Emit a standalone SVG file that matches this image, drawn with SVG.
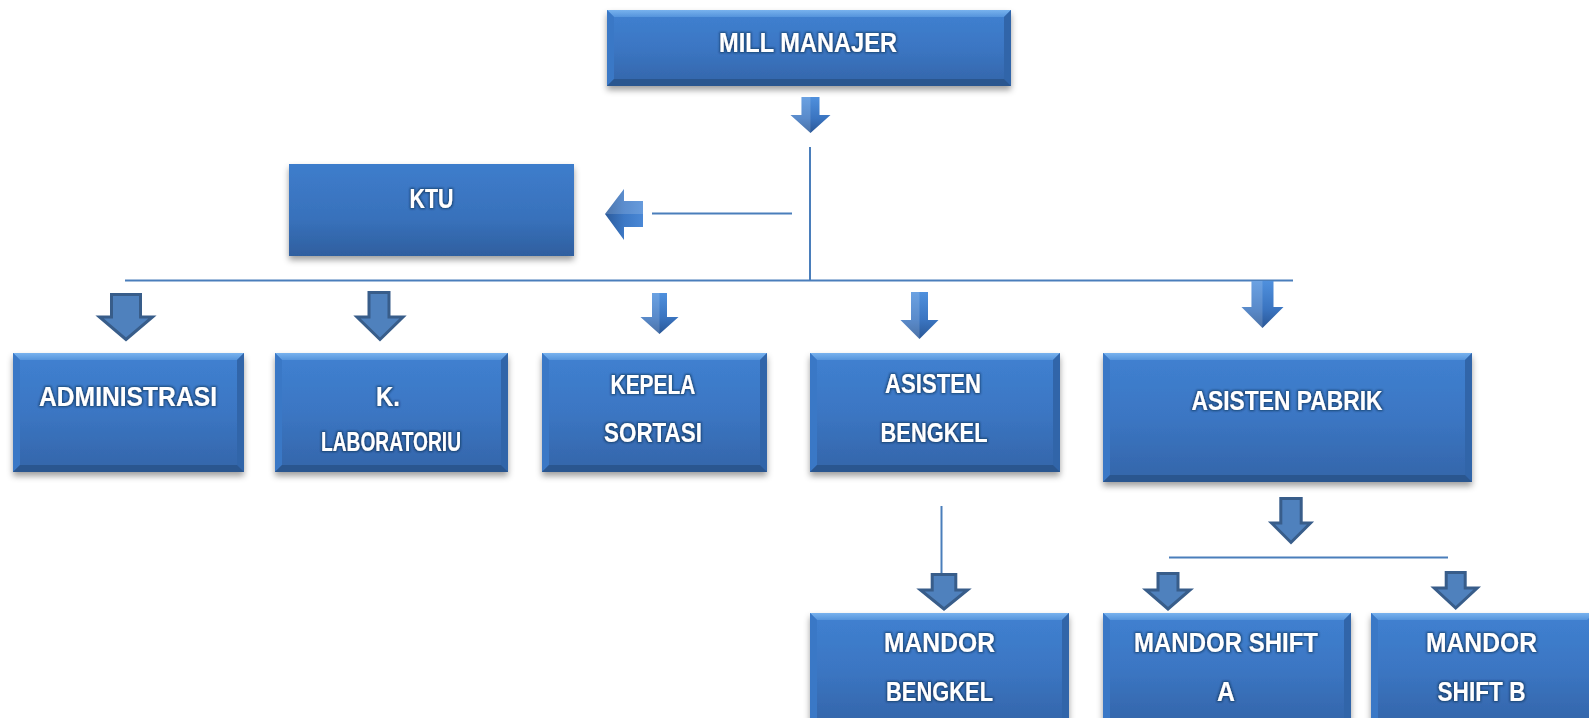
<svg xmlns="http://www.w3.org/2000/svg" width="1589" height="718" viewBox="0 0 1589 718">
<defs>
<linearGradient id="boxGrad" x1="0" y1="0" x2="0" y2="1">
<stop offset="0" stop-color="#4081d1"/><stop offset="0.5" stop-color="#3b76c3"/><stop offset="1" stop-color="#3465a9"/>
</linearGradient>
<linearGradient id="flatGrad" x1="0" y1="0" x2="0" y2="1">
<stop offset="0" stop-color="#3e7dcc"/><stop offset="0.6" stop-color="#3871bb"/><stop offset="1" stop-color="#2f5f9f"/>
</linearGradient>
<linearGradient id="topGrad" x1="0" y1="0" x2="0" y2="1">
<stop offset="0" stop-color="#78b2ee"/><stop offset="1" stop-color="#5594dc"/>
</linearGradient>
<linearGradient id="glossGrad" x1="0" y1="0" x2="0" y2="1">
<stop offset="0" stop-color="#4f90dd"/><stop offset="0.6" stop-color="#3a74c0"/><stop offset="1" stop-color="#2a5796"/>
</linearGradient>
<linearGradient id="glossGradH" x1="0" y1="0" x2="1" y2="0">
<stop offset="0" stop-color="#2c5b9b"/><stop offset="0.5" stop-color="#3c78c5"/><stop offset="1" stop-color="#4a88d6"/>
</linearGradient>
<filter id="shadow" x="-5%" y="-10%" width="110%" height="130%">
<feDropShadow dx="0" dy="4" stdDeviation="3" flood-color="#000" flood-opacity="0.38"/>
</filter>
<filter id="glow" x="-10%" y="-40%" width="120%" height="180%">
<feMorphology in="SourceAlpha" operator="dilate" radius="1" result="d"/>
<feGaussianBlur in="d" stdDeviation="1.2" result="b"/>
<feFlood flood-color="#0d2340" flood-opacity="0.6"/>
<feComposite in2="b" operator="in" result="s"/>
<feMerge><feMergeNode in="s"/><feMergeNode in="SourceGraphic"/></feMerge>
</filter>
</defs>
<style>
.base{fill:url(#boxGrad);filter:url(#shadow)}
.flat{fill:url(#flatGrad);filter:url(#shadow)}
.bt{fill:url(#topGrad)}
.bl{fill:#3a78c6}
.br{fill:#3165a9}
.bb{fill:#2a568f}
.t{font-family:"Liberation Sans",Arial,sans-serif;font-weight:bold;font-size:27px;fill:#fff;text-anchor:middle;filter:url(#glow)}
.ln{stroke:#4a7ebb;stroke-width:2;fill:none}
.ga{fill:url(#glossGrad)}
.gh{fill:#ffffff;fill-opacity:0.16}
.oa{fill:#4f81bd;stroke:#385d8a;stroke-width:3;stroke-linejoin:miter}
</style>
<rect width="1589" height="718" fill="#ffffff"/>

<g id="connectors">
<line class="ln" x1="810" y1="147" x2="810" y2="281"/>
<line class="ln" x1="652" y1="213.5" x2="792" y2="213.5"/>
<line class="ln" x1="125" y1="280.5" x2="1293" y2="280.5"/>
<line class="ln" x1="941.5" y1="506" x2="941.5" y2="577"/>
<line class="ln" x1="1169" y1="557.5" x2="1448" y2="557.5"/>
<polygon class="ga" points="801.5,97 819.5,97 819.5,115 830.5,115 810.5,133 790.5,115 801.5,115"/>
<polygon class="gh" points="801.5,97 810.5,97 810.5,133 790.5,115 801.5,115"/>
<polygon fill="url(#glossGradH)" points="643,201 643,227 624,227 624,240 605,214 624,189 624,201"/>
<polygon class="gh" points="643,201 643,214 605,214 624,189 624,201"/>
<polygon class="ga" points="652,293 667,293 667,317 678.5,317 659.5,334 640.5,317 652,317"/>
<polygon class="gh" points="652,293 659.5,293 659.5,334 640.5,317 652,317"/>
<polygon class="ga" points="911,292 928,292 928,320 938.5,320 919.5,339 900.5,320 911,320"/>
<polygon class="gh" points="911,292 919.5,292 919.5,339 900.5,320 911,320"/>
<polygon class="ga" points="1251.5,281 1273.5,281 1273.5,307 1283.5,307 1262.5,328 1241.5,307 1251.5,307"/>
<polygon class="gh" points="1251.5,281 1262.5,281 1262.5,328 1241.5,307 1251.5,307"/>
<polygon class="oa" points="111.5,294.5 140.5,294.5 140.5,317 152.5,317 126,339.5 99.5,317 111.5,317"/>
<polygon class="oa" points="369,292.5 389,292.5 389,317 403,317 380,339.5 357,317 369,317"/>
<polygon class="oa" points="1280.8,498.5 1301.2,498.5 1301.2,523 1310.5,523 1291,542.5 1271.5,523 1280.8,523"/>
<polygon class="oa" points="932.2,574.5 955.8,574.5 955.8,590 967.5,590 944,609 920.5,590 932.2,590"/>
<polygon class="oa" points="1158,573.5 1178,573.5 1178,590 1190,590 1168,609 1146,590 1158,590"/>
<polygon class="oa" points="1446.2,572.5 1465.2,572.5 1465.2,588 1477.2,588 1455.7,608 1434.2,588 1446.2,588"/>
</g>

<g id="mill-manajer">
<rect class="base" x="607" y="10" width="404" height="76"/>
<polygon class="bt" points="607,10 1011,10 1004,17 614,17"/>
<polygon class="bl" points="607,10 614,17 614,79 607,86"/>
<polygon class="br" points="1011,10 1004,17 1004,79 1011,86"/>
<polygon class="bb" points="607,86 614,79 1004,79 1011,86"/>
<text class="t" x="808" y="52" textLength="178" lengthAdjust="spacingAndGlyphs">MILL MANAJER</text>
</g>

<g id="ktu">
<rect class="flat" x="289" y="164" width="285" height="92"/>
<text class="t" x="431.5" y="208" textLength="44" lengthAdjust="spacingAndGlyphs">KTU</text>
</g>

<g id="administrasi">
<rect class="base" x="13" y="353" width="231" height="119"/>
<polygon class="bt" points="13,353 244,353 237,360 20,360"/>
<polygon class="bl" points="13,353 20,360 20,465 13,472"/>
<polygon class="br" points="244,353 237,360 237,465 244,472"/>
<polygon class="bb" points="13,472 20,465 237,465 244,472"/>
<text class="t" x="128" y="406" textLength="178" lengthAdjust="spacingAndGlyphs">ADMINISTRASI</text>
</g>

<g id="k-laboratoriu">
<rect class="base" x="275" y="353" width="233" height="119"/>
<polygon class="bt" points="275,353 508,353 501,360 282,360"/>
<polygon class="bl" points="275,353 282,360 282,465 275,472"/>
<polygon class="br" points="508,353 501,360 501,465 508,472"/>
<polygon class="bb" points="275,472 282,465 501,465 508,472"/>
<text class="t" x="388" y="406" textLength="24" lengthAdjust="spacingAndGlyphs">K.</text>
<text class="t" x="391" y="451" textLength="140" lengthAdjust="spacingAndGlyphs">LABORATORIU</text>
</g>

<g id="kepela-sortasi">
<rect class="base" x="542" y="353" width="225" height="119"/>
<polygon class="bt" points="542,353 767,353 760,360 549,360"/>
<polygon class="bl" points="542,353 549,360 549,465 542,472"/>
<polygon class="br" points="767,353 760,360 760,465 767,472"/>
<polygon class="bb" points="542,472 549,465 760,465 767,472"/>
<text class="t" x="653" y="394" textLength="85" lengthAdjust="spacingAndGlyphs">KEPELA</text>
<text class="t" x="653" y="442" textLength="98" lengthAdjust="spacingAndGlyphs">SORTASI</text>
</g>

<g id="asisten-bengkel">
<rect class="base" x="810" y="353" width="250" height="119"/>
<polygon class="bt" points="810,353 1060,353 1053,360 817,360"/>
<polygon class="bl" points="810,353 817,360 817,465 810,472"/>
<polygon class="br" points="1060,353 1053,360 1053,465 1060,472"/>
<polygon class="bb" points="810,472 817,465 1053,465 1060,472"/>
<text class="t" x="933" y="393" textLength="96" lengthAdjust="spacingAndGlyphs">ASISTEN</text>
<text class="t" x="934" y="442" textLength="107" lengthAdjust="spacingAndGlyphs">BENGKEL</text>
</g>

<g id="asisten-pabrik">
<rect class="base" x="1103" y="353" width="369" height="129"/>
<polygon class="bt" points="1103,353 1472,353 1465,360 1110,360"/>
<polygon class="bl" points="1103,353 1110,360 1110,475 1103,482"/>
<polygon class="br" points="1472,353 1465,360 1465,475 1472,482"/>
<polygon class="bb" points="1103,482 1110,475 1465,475 1472,482"/>
<text class="t" x="1287" y="410" textLength="191" lengthAdjust="spacingAndGlyphs">ASISTEN PABRIK</text>
</g>

<g id="mandor-bengkel">
<rect class="base" x="810" y="613" width="259" height="112"/>
<polygon class="bt" points="810,613 1069,613 1062,620 817,620"/>
<polygon class="bl" points="810,613 817,620 817,718 810,725"/>
<polygon class="br" points="1069,613 1062,620 1062,718 1069,725"/>
<text class="t" x="939.5" y="652" textLength="111" lengthAdjust="spacingAndGlyphs">MANDOR</text>
<text class="t" x="939.5" y="701" textLength="107" lengthAdjust="spacingAndGlyphs">BENGKEL</text>
</g>

<g id="mandor-shift-a">
<rect class="base" x="1103" y="613" width="248" height="112"/>
<polygon class="bt" points="1103,613 1351,613 1344,620 1110,620"/>
<polygon class="bl" points="1103,613 1110,620 1110,718 1103,725"/>
<polygon class="br" points="1351,613 1344,620 1344,718 1351,725"/>
<text class="t" x="1226" y="652" textLength="184" lengthAdjust="spacingAndGlyphs">MANDOR SHIFT</text>
<text class="t" x="1226" y="701" textLength="18" lengthAdjust="spacingAndGlyphs">A</text>
</g>

<g id="mandor-shift-b">
<rect class="base" x="1371" y="613" width="223" height="112"/>
<polygon class="bt" points="1371,613 1594,613 1587,620 1378,620"/>
<polygon class="bl" points="1371,613 1378,620 1378,718 1371,725"/>
<text class="t" x="1481.5" y="652" textLength="111" lengthAdjust="spacingAndGlyphs">MANDOR</text>
<text class="t" x="1481.5" y="701" textLength="88" lengthAdjust="spacingAndGlyphs">SHIFT B</text>
</g>
</svg>
